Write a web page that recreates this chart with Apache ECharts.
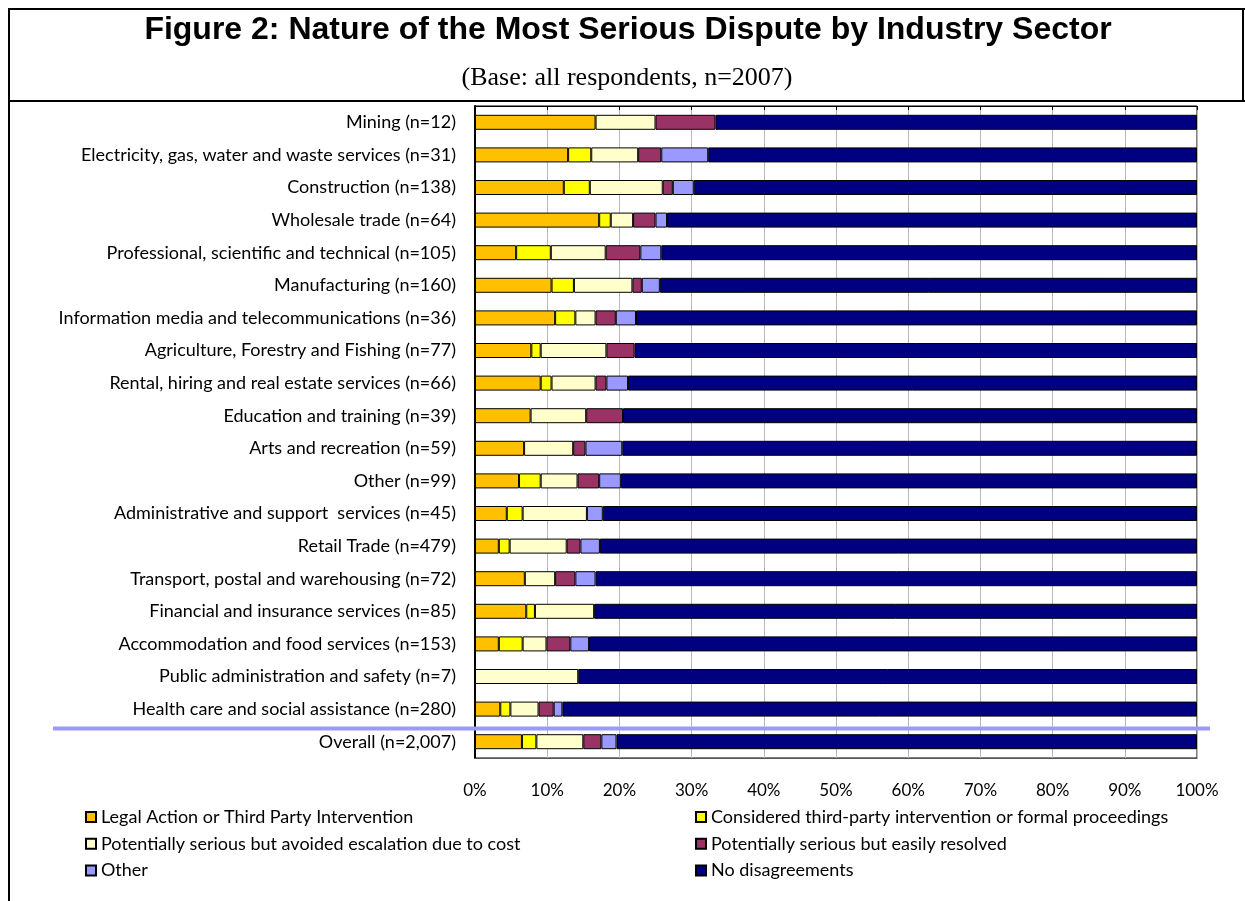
<!DOCTYPE html>
<html>
<head>
<meta charset="utf-8">
<script src="https://cdn.jsdelivr.net/npm/echarts@6/dist/echarts.min.js"></script>
<style>
  html, body { margin: 0; padding: 0; background: #fff; }
  #chart { width: 1245px; height: 901px; }
</style>
</head>
<body>
<div id="chart"></div>
<script>
// Industry sectors, top to bottom
const categories = [
  'Mining (n=12)',
  'Electricity, gas, water and waste services (n=31)',
  'Construction (n=138)',
  'Wholesale trade (n=64)',
  'Professional, scientific and technical (n=105)',
  'Manufacturing (n=160)',
  'Information media and telecommunications (n=36)',
  'Agriculture, Forestry and Fishing (n=77)',
  'Rental, hiring and real estate services (n=66)',
  'Education and training (n=39)',
  'Arts and recreation (n=59)',
  'Other (n=99)',
  'Administrative and support  services (n=45)',
  'Retail Trade (n=479)',
  'Transport, postal and warehousing (n=72)',
  'Financial and insurance services (n=85)',
  'Accommodation and food services (n=153)',
  'Public administration and safety (n=7)',
  'Health care and social assistance (n=280)',
  'Overall (n=2,007)'
];

const seriesNames = [
  'Legal Action or Third Party Intervention',
  'Considered third-party intervention or formal proceedings',
  'Potentially serious but avoided escalation due to cost',
  'Potentially serious but easily resolved',
  'Other',
  'No disagreements'
];

// Percent of respondents in each sector (same order as categories)
const legalAction   = [16.7, 12.9, 12.3, 17.2, 5.7, 10.6, 11.1, 7.8, 9.1, 7.7, 6.8, 6.1, 4.4, 3.3, 6.9, 7.1, 3.3, 0, 3.5, 6.5];
const considered    = [0, 3.2, 3.6, 1.6, 4.8, 3.1, 2.8, 1.3, 1.5, 0, 0, 3.0, 2.2, 1.5, 0, 1.2, 3.3, 0, 1.4, 2.0];
const avoidedCost   = [8.3, 6.5, 10.1, 3.1, 7.6, 8.1, 2.8, 9.1, 6.1, 7.7, 6.8, 5.1, 8.9, 7.9, 4.2, 8.2, 3.3, 14.3, 3.9, 6.5];
const easilyResolved= [8.3, 3.2, 1.4, 3.1, 4.8, 1.3, 2.8, 3.9, 1.5, 5.1, 1.7, 3.0, 0, 1.9, 2.8, 0, 3.3, 0, 2.1, 2.5];
const otherNature   = [0, 6.5, 2.9, 1.6, 2.9, 2.5, 2.8, 0, 3.0, 0, 5.1, 3.0, 2.2, 2.7, 2.8, 0, 2.6, 0, 1.2, 2.1];
const noDisagree    = [66.7, 67.7, 69.7, 73.4, 74.2, 74.4, 77.7, 77.9, 78.8, 79.5, 79.6, 79.8, 82.3, 82.7, 83.3, 83.5, 84.2, 85.7, 87.9, 80.4];

const xTickLabels = ['0%', '10%', '20%', '30%', '40%', '50%', '60%', '70%', '80%', '90%', '100%'];

const colors = ['#FFC000', '#FFFF00', '#FFFFCC', '#993366', '#9999FF', '#000080'];
const seriesValues = [legalAction, considered, avoidedCost, easilyResolved, otherNature, noDisagree];

const labelFont = 'Lato, "Open Sans", sans-serif';

const chart = echarts.init(document.getElementById('chart'), null, { renderer: 'canvas' });

const series = seriesValues.map((vals, i) => ({
  name: seriesNames[i],
  type: 'bar',
  stack: 'total',
  barWidth: 15,
  // empty segments are left out so no zero-width outline is drawn
  data: vals.map(v => (v === 0 ? '-' : v)),
  itemStyle: { color: colors[i], borderColor: '#000', borderWidth: 1 },
  emphasis: { disabled: true }
}));

const legendCommon = {
  orient: 'vertical',
  icon: 'rect',
  itemWidth: 10,
  itemHeight: 10,
  itemGap: 8.7,
  padding: 5,
  selectedMode: false,
  textStyle: { fontFamily: labelFont, fontSize: 18, color: '#000', lineHeight: 18 }
};

chart.setOption({
  animation: false,
  backgroundColor: '#fff',
  grid: {
    left: 475, right: 48, top: 106, bottom: 143,
    show: true, borderColor: '#000', borderWidth: 1, backgroundColor: 'transparent'
  },
  legend: [
    Object.assign({}, legendCommon, { left: 80, top: 803, data: [seriesNames[0], seriesNames[2], seriesNames[4]] }),
    Object.assign({}, legendCommon, { left: 690, top: 803, data: [seriesNames[1], seriesNames[3], seriesNames[5]] })
  ],
  xAxis: [
    {
      type: 'value', min: 0, max: 100, interval: 10, position: 'bottom',
      axisLine: { show: true, lineStyle: { color: '#555', width: 1 } },
      axisTick: { show: false },
      splitLine: { show: true, lineStyle: { color: '#b8b8b8', width: 1 } },
      axisLabel: {
        margin: 24, color: '#000', fontFamily: labelFont, fontSize: 17,
        formatter: v => xTickLabels[Math.round(v / 10)]
      }
    },
    {
      type: 'value', min: 0, max: 100, interval: 10, position: 'top',
      axisLine: { show: true, lineStyle: { color: '#000', width: 1 } },
      axisTick: { show: true, inside: true, length: 4, lineStyle: { color: '#000' } },
      splitLine: { show: false },
      axisLabel: { show: false }
    }
  ],
  yAxis: {
    type: 'category', data: categories, inverse: true,
    axisLine: { show: true, lineStyle: { color: '#000', width: 2 } },
    axisTick: { show: false },
    axisLabel: { margin: 19, color: '#000', fontFamily: labelFont, fontSize: 18 }
  },
  series: series,
  graphic: [
    { type: 'line', shape: { x1: 9, y1: 9, x2: 1245, y2: 9 }, style: { stroke: '#000', lineWidth: 2 } },
    { type: 'line', shape: { x1: 9, y1: 101, x2: 1245, y2: 101 }, style: { stroke: '#000', lineWidth: 2 } },
    { type: 'line', shape: { x1: 9, y1: 8, x2: 9, y2: 901 }, style: { stroke: '#000', lineWidth: 2 } },
    { type: 'line', shape: { x1: 1243, y1: 8, x2: 1243, y2: 101 }, style: { stroke: '#000', lineWidth: 2 } },
    {
      type: 'text', x: 628, y: 30,
      style: {
        text: 'Figure 2: Nature of the Most Serious Dispute by Industry Sector',
        fontFamily: '"Liberation Sans", Arial, sans-serif', fontWeight: 'bold', fontSize: 32,
        fill: '#000', align: 'center', verticalAlign: 'middle'
      }
    },
    {
      type: 'text', x: 627, y: 78,
      style: {
        text: '(Base: all respondents, n=2007)',
        fontFamily: '"Liberation Serif", "Times New Roman", serif', fontSize: 26,
        fill: '#000', align: 'center', verticalAlign: 'middle'
      }
    },
    // divider between the sectors and the overall total
    { type: 'line', z: 100, shape: { x1: 53, y1: 728.5, x2: 1210, y2: 728.5 }, style: { stroke: '#9999FF', lineWidth: 4 } }
  ]
});
</script>
</body>
</html>
